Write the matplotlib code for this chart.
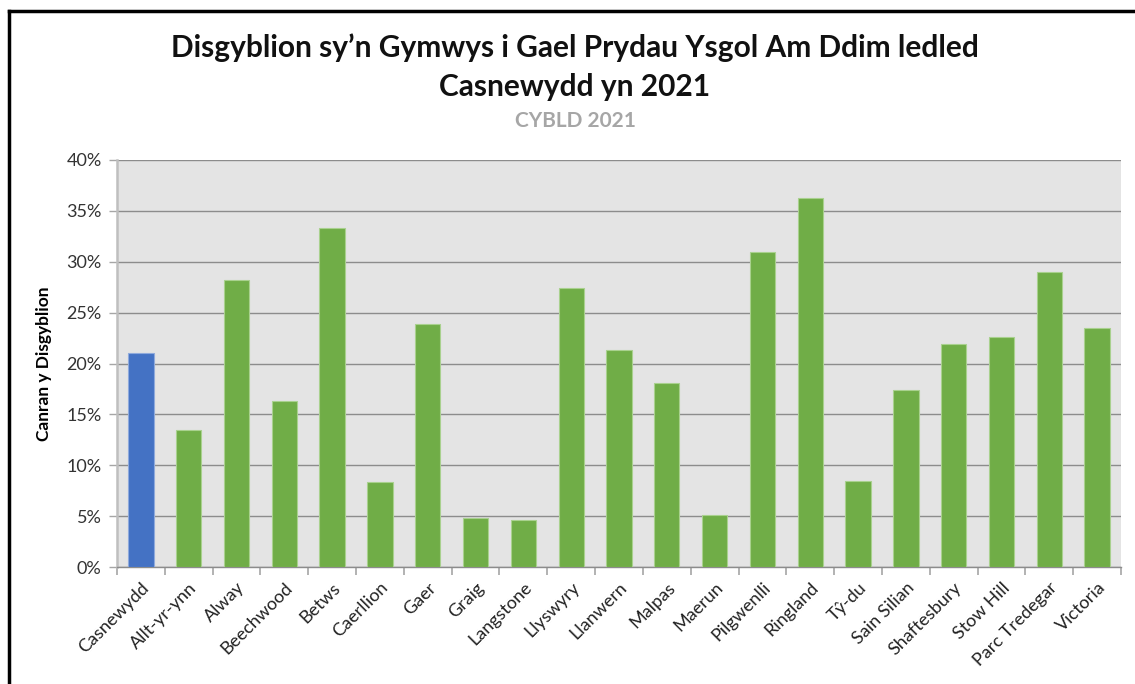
import numpy as np
import matplotlib
matplotlib.use('Agg')
import matplotlib.pyplot as plt
from matplotlib.lines import Line2D
from matplotlib.ticker import FuncFormatter, MultipleLocator

plt.rcParams['font.family'] = ['Lato', 'DejaVu Sans']

wards = ['Casnewydd', 'Allt-yr-ynn', 'Alway', 'Beechwood', 'Betws', 'Caerllion',
         'Gaer', 'Graig', 'Langstone', 'Llyswyry', 'Llanwern', 'Malpas', 'Maerun',
         'Pilgwenlli', 'Ringland', 'Tŷ-du', 'Sain Silian', 'Shaftesbury',
         'Stow Hill', 'Parc Tredegar', 'Victoria']
pct = [21.0, 13.5, 28.2, 16.3, 33.3, 8.35, 23.9, 4.85, 4.65, 27.4, 21.3,
       18.1, 5.1, 31.0, 36.3, 8.45, 17.4, 21.9, 22.6, 29.0, 23.5]

green = '#70AD47'
blue = '#4472C4'
colors = [blue] + [green] * (len(wards) - 1)
edges = ['#8FAADC'] + ['#A9D18E'] * (len(wards) - 1)

W, H = 1135, 684
fig = plt.figure(figsize=(W / 100, H / 100), dpi=100)
ax = fig.add_axes([117 / W, 1 - 567 / H, (1121 - 117) / W, (567 - 160) / H])
ax.set_facecolor('#E4E4E4')

x = np.arange(len(wards))
ax.bar(x, pct, width=0.53, color=colors, edgecolor=edges, linewidth=0.8, zorder=3)

ax.set_xlim(-0.5, len(wards) - 0.5)
ax.set_ylim(0, 40)
ax.yaxis.set_major_locator(MultipleLocator(5))
ax.yaxis.set_major_formatter(FuncFormatter(lambda v, p: f'{v:.0f}%'))
ax.grid(axis='y', color='#8C8C8C', linewidth=1.0, zorder=1)
ax.set_axisbelow(True)

ax.set_xticks(x)
ax.set_xticklabels(wards, rotation=45, ha='right', rotation_mode='anchor',
                   fontsize=13, color='#222222')
ax.set_xticks(np.arange(-0.5, len(wards), 1), minor=True)
ax.tick_params(axis='x', which='major', length=0, pad=9)
ax.tick_params(axis='x', which='minor', length=6, color='#A6A6A6', width=1.2)
ax.tick_params(axis='y', length=6, color='#A6A6A6', width=1.0, labelsize=13,
               labelcolor='#333333', pad=5)

for s in ['top', 'right']:
    ax.spines[s].set_visible(False)
ax.spines['left'].set_color('#BFBFBF')
ax.spines['left'].set_linewidth(1.8)
ax.spines['bottom'].set_color('#8C8C8C')
ax.spines['bottom'].set_linewidth(1.0)

ax.set_ylabel('Canran y Disgyblion', fontsize=12.5, fontweight='bold', labelpad=10)

fig.text(575 / W, 1 - 48 / H, 'Disgyblion sy’n Gymwys i Gael Prydau Ysgol Am Ddim ledled',
         ha='center', va='center', fontsize=21.5, fontweight='bold', color='#111111')
fig.text(575 / W, 1 - 87 / H, 'Casnewydd yn 2021',
         ha='center', va='center', fontsize=21.5, fontweight='bold', color='#111111')
fig.text(575 / W, 1 - 121 / H, 'CYBLD 2021',
         ha='center', va='center', fontsize=15, fontweight='bold', color='#A6A6A6')

# frame lines around the chart
fig.add_artist(Line2D([8.5 / W, 1], [1 - 11 / H, 1 - 11 / H], color='black', linewidth=2.5))
fig.add_artist(Line2D([8.5 / W, 8.5 / W], [0, 1 - 11 / H], color='black', linewidth=2.5))

fig.savefig('out.png', dpi=100)
